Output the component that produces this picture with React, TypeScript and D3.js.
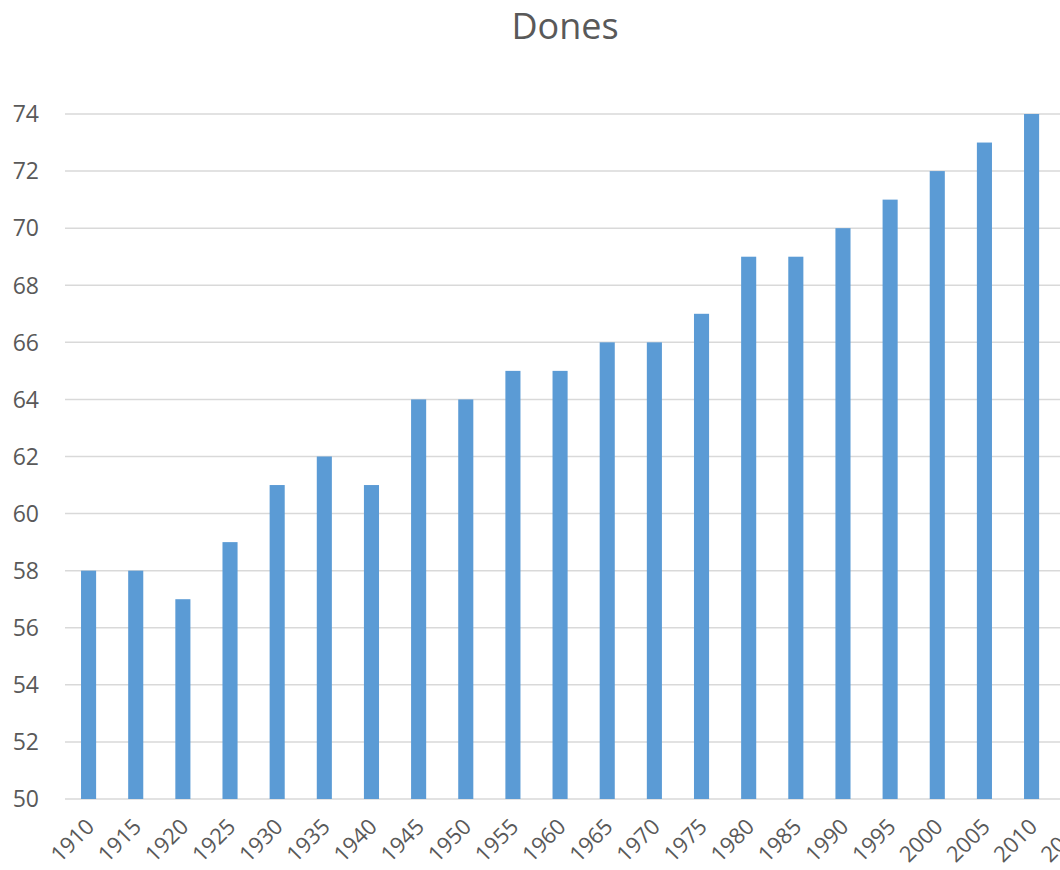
import { useEffect, useRef } from 'react';
import * as d3 from 'd3';

const years = ['1910', '1915', '1920', '1925', '1930', '1935', '1940', '1945', '1950', '1955', '1960',
  '1965', '1970', '1975', '1980', '1985', '1990', '1995', '2000', '2005', '2010', '2015'];
const values = [58, 58, 57, 59, 61, 62, 61, 64, 64, 65, 65, 66, 66, 67, 69, 69, 70, 71, 72, 73, 74, 74];
const yTicks = [50, 52, 54, 56, 58, 60, 62, 64, 66, 68, 70, 72, 74];
const title = 'Dones';

function App() {
  const ref = useRef<SVGSVGElement>(null);

  useEffect(() => {
    const svg = d3.select(ref.current);
    svg.selectAll('*').remove();

    const left = 65;
    const step = 47.15;
    const x = d3.scaleBand()
      .domain(years)
      .range([left, left + step * years.length])
      .paddingInner(0.68)
      .paddingOuter(0.34);
    const y = d3.scaleLinear().domain([50, 74]).range([799, 114]);

    const font = '"Open Sans", sans-serif';

    svg.append('text')
      .attr('x', 565)
      .attr('y', 39)
      .attr('text-anchor', 'middle')
      .attr('font-family', font)
      .attr('font-size', 36)
      .attr('fill', '#595959')
      .text(title);

    const grid = svg.append('g');
    grid.selectAll('line')
      .data(yTicks)
      .enter()
      .append('line')
      .attr('x1', left)
      .attr('x2', 1060)
      .attr('y1', (d) => y(d))
      .attr('y2', (d) => y(d))
      .attr('stroke', '#d9d9d9')
      .attr('stroke-width', 1.5);

    svg.append('g')
      .selectAll('text')
      .data(yTicks)
      .enter()
      .append('text')
      .attr('x', 39)
      .attr('y', (d) => y(d))
      .attr('dy', '0.36em')
      .attr('text-anchor', 'end')
      .attr('font-family', font)
      .attr('font-size', 23)
      .attr('fill', '#595959')
      .text((d) => d);

    svg.append('g')
      .selectAll('rect')
      .data(years)
      .enter()
      .append('rect')
      .attr('x', (d) => x(d)!)
      .attr('y', (d, i) => y(values[i]))
      .attr('width', x.bandwidth())
      .attr('height', (d, i) => y(50) - y(values[i]))
      .attr('fill', '#5b9bd5');

    svg.append('g')
      .selectAll('text')
      .data(years)
      .enter()
      .append('text')
      .attr('transform', (d) => `translate(${x(d)! + x.bandwidth() / 2 + 7},${828}) rotate(-45)`)
      .attr('text-anchor', 'end')
      .attr('font-family', font)
      .attr('font-size', 22)
      .attr('fill', '#595959')
      .text((d) => d);
  }, []);

  return (
    <svg ref={ref} width={1060} height={870}
      style={{ position: 'absolute', left: 0, top: 0, background: '#fff' }} />
  );
}

export default App;
